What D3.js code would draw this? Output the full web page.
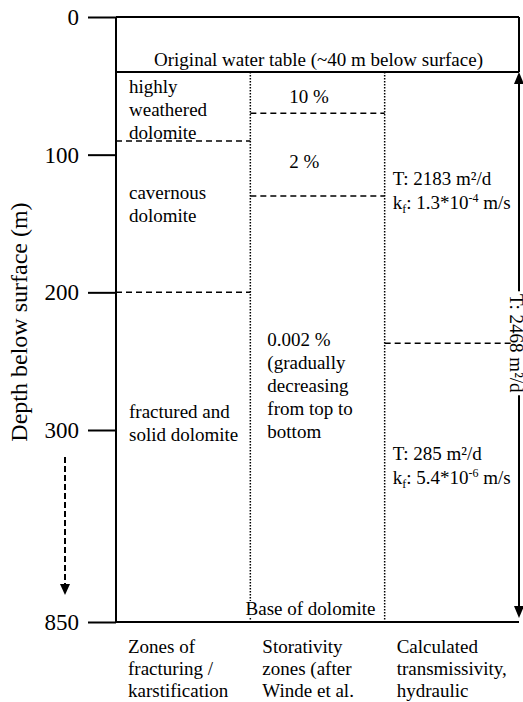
<!DOCTYPE html>
<html lang='en'>
<head>
  <meta charset='UTF-8'>
  <title>Dolomite profile</title>
  <script src='https://d3js.org/d3.v7.min.js'></script>
  <style>
    body { margin: 0; background: #fff; }
    svg { display: block; }
    svg text { font-family: 'Liberation Serif', serif; fill: #000; }
  </style>
</head>
<body>
  <svg width='523' height='702'></svg>

  <script>
    // depth values (m below surface)
    var depthTicks = [0, 100, 200, 300, 850];
    var waterTableDepth = 40;
    var baseDepth = 850;

    var columnTitles = [
      ['Zones of', 'fracturing /', 'karstification'],
      ['Storativity', 'zones (after', 'Winde et al.'],
      ['Calculated', 'transmissivity,', 'hydraulic']
    ];
    // dashed zone boundaries per column
    var zoneBreaks = [[90, 200], [70, 130], [237]];

    var fractureLabels = [['highly', 'weathered', 'dolomite'], ['cavernous', 'dolomite'], ['fractured and', 'solid dolomite']];
    var fractureLabelDepths = [67, 136, 295];

    var storLabels = [['10 %'], ['2 %'], ['0.002 %', '(gradually', 'decreasing', 'from top to', 'bottom']];
    var storLabelDepths = [58, 105, 268];

    var transT = ['2183', '285'];
    var transKf = ['1.3', '5.4'];
    var transExp = ['-4', '-6'];
    var transLabelDepths = [126, 400];
    var totalT = '2468';

    var svg = d3.select('svg');

    // broken depth axis: 0-300 linear, then compressed down to 850
    var y = d3.scaleLinear()
      .domain([0, 300, 850])
      .range([17, 430, 622]);
    var x = d3.scaleLinear()
      .domain([0, 3])
      .range([116, 519]);

    var lh = 23;
    var fs = 19;

    // axis
    var axis = svg.append('g')
      .attr('transform', 'translate(' + x(0) + ',0)')
      .call(d3.axisLeft(y).tickValues(depthTicks).tickSize(28).tickPadding(9).tickFormat(d3.format('d')));
    axis.select('.domain').remove();
    axis.selectAll('line').attr('stroke', '#000').attr('stroke-width', 2);
    axis.selectAll('text')
      .attr('font-size', 23);

    svg.append('text')
      .attr('transform', 'translate(27,' + 322 + ') rotate(-90)')
      .attr('text-anchor', 'middle')
      .attr('font-size', 24)
      .text('Depth below surface (m)');

    // dashed break arrow
    svg.append('line')
      .attr('x1', 65).attr('x2', 65)
      .attr('y1', y(300) + 27).attr('y2', y(850) - 36)
      .attr('stroke', '#000').attr('stroke-width', 2)
      .attr('stroke-dasharray', '6,3');
    svg.append('path')
      .attr('d', d3.line()([[60, y(850) - 38], [70, y(850) - 38], [65, y(850) - 27]]))
      .attr('fill', '#000');

    // frame
    var frame = svg.append('g').attr('stroke', '#000').attr('stroke-width', 2).attr('fill', 'none');
    frame.append('line').attr('x1', x(0)).attr('x2', x(3)).attr('y1', y(0)).attr('y2', y(0));
    frame.append('line').attr('x1', x(0)).attr('x2', x(3)).attr('y1', y(baseDepth)).attr('y2', y(baseDepth));
    frame.append('line').attr('x1', x(0)).attr('x2', x(0)).attr('y1', y(0)).attr('y2', y(baseDepth));
    frame.append('line').attr('x1', x(3)).attr('x2', x(3)).attr('y1', y(0)).attr('y2', y(waterTableDepth));
    frame.append('line').attr('x1', x(0)).attr('x2', x(3)).attr('y1', y(waterTableDepth)).attr('y2', y(waterTableDepth));

    svg.append('text')
      .attr('x', (x(0) + x(3)) / 2 + 1)
      .attr('y', y(waterTableDepth) - 6)
      .attr('text-anchor', 'middle')
      .attr('font-size', fs)
      .text('Original water table (~40 m below surface)');

    // dotted column dividers
    [1, 2].forEach(function(c) {
      svg.append('line')
        .attr('x1', x(c)).attr('x2', x(c))
        .attr('y1', y(waterTableDepth)).attr('y2', y(baseDepth))
        .attr('stroke', '#000').attr('stroke-width', 1.5)
        .attr('stroke-dasharray', '1.5,1.5');
    });

    // dashed zone boundaries
    zoneBreaks.forEach(function(b, c) {
      svg.selectAll(null).data(b).enter().append('line')
        .attr('x1', x(c)).attr('x2', x(c + 1))
        .attr('y1', d => y(d)).attr('y2', d => y(d))
        .attr('stroke', '#000').attr('stroke-width', 1.5)
        .attr('stroke-dasharray', '6,4');
    });

    function block(lines, xx, depth) {
      var y0 = y(depth) - (lines.length - 1) / 2 * lh;
      var t = svg.append('text')
        .attr('font-size', fs);
      lines.forEach(function(l, i) {
        t.append('tspan').attr('x', xx).attr('y', y0 + i * lh).attr('dy', '0.33em').text(l);
      });
      return t;
    }

    fractureLabels.forEach(function(l, i) { block(l, x(0) + 13, fractureLabelDepths[i]); });
    var storIndent = [39, 39, 17];
    storLabels.forEach(function(l, i) { block(l, x(1) + storIndent[i], storLabelDepths[i]); });

    transT.forEach(function(t, i) {
      var y0 = y(transLabelDepths[i]) - lh / 2;
      var xx = x(2) + 8;
      svg.append('text').attr('font-size', fs)
        .attr('x', xx).attr('y', y0).attr('dy', '0.33em')
        .text('T: ' + t + ' m\u00b2/d');
      var k = svg.append('text').attr('font-size', fs)
        .attr('x', xx).attr('y', y0 + lh + 1).attr('dy', '0.33em');
      k.append('tspan').text('k');
      k.append('tspan').attr('font-size', 12).attr('dy', 4).text('f');
      k.append('tspan').attr('dy', -4).text(': ' + transKf[i] + '*10');
      k.append('tspan').attr('font-size', 12).attr('dy', -7).text(transExp[i]);
      k.append('tspan').attr('dy', 7).text(' m/s');
    });

    // base of dolomite
    var baseLbl = svg.append('text')
      .attr('x', (x(1) + x(2)) / 2 - 7)
      .attr('y', y(baseDepth) - 7)
      .attr('text-anchor', 'middle')
      .attr('font-size', fs)
      .text('Base of dolomite');
    var bb = baseLbl.node().getBBox();
    svg.insert('rect', function() { return baseLbl.node(); })
      .attr('x', bb.x - 1).attr('y', bb.y + 3).attr('width', x(2) - bb.x - 2).attr('height', bb.height - 4)
      .attr('fill', '#fff');

    // total transmissivity double arrow
    var ax = x(3);
    svg.append('line')
      .attr('x1', ax).attr('x2', ax)
      .attr('y1', y(waterTableDepth) + 8).attr('y2', y(baseDepth) - 12)
      .attr('stroke', '#000').attr('stroke-width', 2);
    svg.append('path')
      .attr('d', d3.line()([[ax - 5, y(waterTableDepth) + 12], [ax + 5, y(waterTableDepth) + 12], [ax, y(waterTableDepth)]]))
      .attr('fill', '#000');
    svg.append('path')
      .attr('d', d3.line()([[ax - 5, y(baseDepth) - 16], [ax + 5, y(baseDepth) - 16], [ax, y(baseDepth) - 4]]))
      .attr('fill', '#000');

    var midY = y(237);
    svg.append('rect')
      .attr('x', ax - 8).attr('y', midY - 52).attr('width', 20).attr('height', 104)
      .attr('fill', '#fff');
    svg.append('text')
      .attr('transform', 'translate(' + (ax - 9) + ',' + midY + ') rotate(90)')
      .attr('text-anchor', 'middle')
      .attr('font-size', fs)
      .text('T: ' + totalT + ' m\u00b2/d');

    // column titles
    columnTitles.forEach(function(l, c) {
      var t = svg.append('text').attr('font-size', fs);
      l.forEach(function(s, i) {
        t.append('tspan').attr('x', x(c) + 12).attr('y', 647 + i * 22).attr('dy', '0.33em').text(s);
      });
    });
  </script>
</body>
</html>
